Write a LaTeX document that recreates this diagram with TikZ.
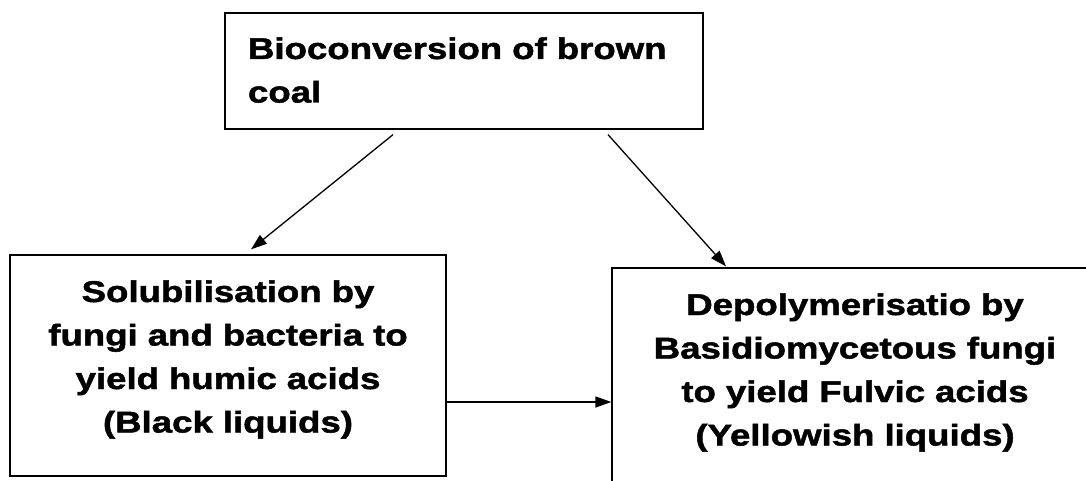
\documentclass[tikz,border=0pt]{standalone}
\usepackage{fontspec}
\newfontfamily\boxfont[FakeStretch=1.22,FakeBold=1.6]{Liberation Sans Bold}
\usetikzlibrary{arrows.meta}
\usetikzlibrary{positioning}

\begin{document}
\begin{tikzpicture}[x=1pt, y=-1pt,
    stagebox/.style = {draw, line width=1.3pt, inner ysep=0pt, anchor=base,
        font=\boxfont\fontsize{30}{43.5}\selectfont},
    arr/.style = {-{Triangle[length=16pt, width=11pt]}, line width=1.3pt}]
    \useasboundingbox (0,0) rectangle (1086,481);
    \clip (0,0) rectangle (1086,481);
    \node[stagebox, inner xsep=23pt, text width=432pt, align=left,
        text height=46pt, text depth=70pt] (bio) at (464,59)
        {Bioconversion of brown\\ coal};
    \node[stagebox, inner xsep=0pt, text width=436pt, align=center,
        text height=47pt, text depth=174pt] (solub) at (228,302)
        {Solubilisation by\\ fungi and bacteria to\\ yield humic acids\\ (Black liquids)};
    \node[stagebox, inner xsep=0pt, text width=486pt, align=center,
        text height=47pt, text depth=195pt] (depoly) at (855,315)
        {Depolymerisatio by\\ Basidiomycetous fungi\\ to yield Fulvic acids\\ (Yellowish liquids)};
    \draw[arr] ([xshift=-71pt, yshift=-5pt]bio.south) -- ([xshift=23pt, yshift=5pt]solub.north);
    \draw[arr] ([xshift=144pt, yshift=-5pt]bio.south) -- ([xshift=-129pt, yshift=1pt]depoly.north);
    \draw[arr] ([yshift=-36.5pt]solub.east) -- ([yshift=-36.5pt]solub.east -| depoly.west);
\end{tikzpicture}
\end{document}
